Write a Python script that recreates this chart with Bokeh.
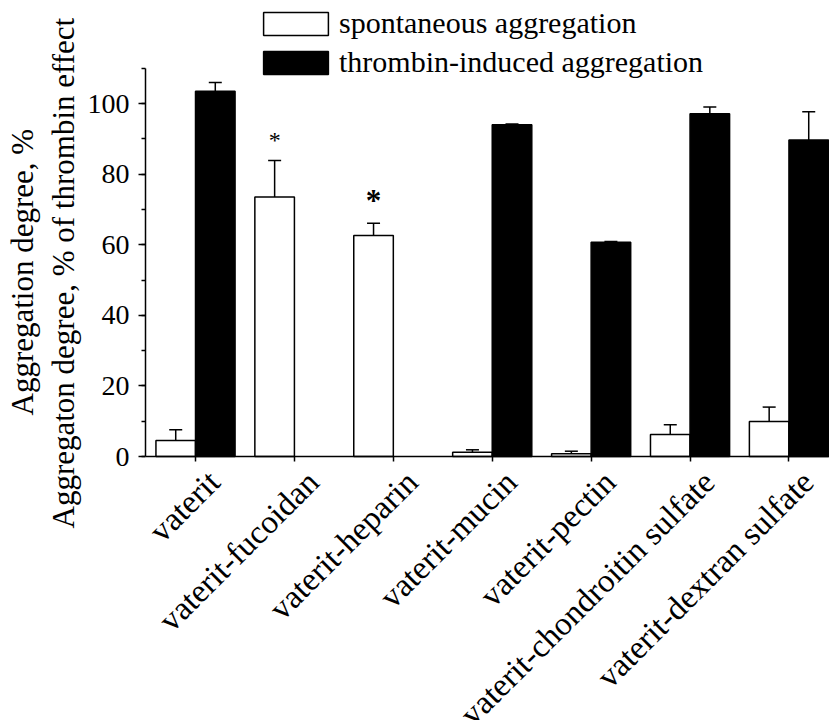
import math
from bokeh.plotting import figure
from bokeh.models import (Range1d, FixedTicker, SingleIntervalTicker, ColumnDataSource,
                          Whisker, TeeHead, Legend, LegendItem, LinearAxis, Title)
from bokeh.core.properties import value
from bokeh.embed import file_html
from bokeh.resources import INLINE

categories = ["vaterit", "vaterit-fucoidan", "vaterit-heparin", "vaterit-mucin",
              "vaterit-pectin", "vaterit-chondroitin sulfate", "vaterit-dextran sulfate"]
spont = [4.5, 73.5, 62.6, 1.2, 0.8, 6.2, 9.9]
spont_err = [3.1, 10.4, 3.5, 0.7, 0.7, 2.8, 4.1]
thromb = [103.5, None, None, 94.0, 60.7, 97.1, 89.7]
thromb_err = [2.5, None, None, 0.2, 0.2, 1.9, 8.0]
sig_small = ["", "*", "", "", "", "", ""]
sig_big = ["", "", "*", "", "", "", ""]
series_names = ["spontaneous aggregation", "thrombin-induced aggregation"]
y_title_1 = "Aggregation degree, %"
y_title_2 = "Aggregaton degree, % of thrombin effect"

FONT = "Liberation Serif"
BW = 0.4
LABEL_SHIFT = 0.19

idx = list(range(len(categories)))
s_src = ColumnDataSource(dict(
    x=[i - BW / 2 for i in idx], top=spont,
    upper=[v + e for v, e in zip(spont, spont_err)],
    lower=spont,
))
t_idx = [i for i in idx if thromb[i] is not None]
t_src = ColumnDataSource(dict(
    x=[i + BW / 2 for i in t_idx], top=[thromb[i] for i in t_idx],
    upper=[thromb[i] + thromb_err[i] for i in t_idx],
    lower=[thromb[i] for i in t_idx],
))

p = figure(width=829, height=720, output_backend="svg", toolbar_location=None,
           x_range=Range1d(-0.5056, 6.41), y_range=Range1d(-74.8, 129.2),
           x_axis_location=None,
           min_border_left=145, min_border_right=0, min_border_top=0,
           min_border_bottom=0)
p.outline_line_color = None
p.xgrid.visible = False
p.ygrid.visible = False
p.background_fill_color = "white"
p.border_fill_color = "white"

r1 = p.vbar(x="x", top="top", width=BW, bottom=0, source=s_src,
            fill_color="white", line_color="black", line_width=1.5)
r2 = p.vbar(x="x", top="top", width=BW, bottom=0, source=t_src,
            fill_color="black", line_color="black", line_width=1.5)

for src in (s_src, t_src):
    w = Whisker(base="x", upper="upper", lower="lower", source=src,
                upper_head=TeeHead(size=13, line_width=1.5, line_color="black"),
                lower_head=None, line_width=1.5, line_color="black")
    p.add_layout(w)

# significance marks
ss = ColumnDataSource(dict(
    x=[i - BW / 2 for i in idx if sig_small[i]],
    y=[spont[i] + spont_err[i] + 5.9 for i in idx if sig_small[i]],
    t=[sig_small[i] for i in idx if sig_small[i]]))
sb = ColumnDataSource(dict(
    x=[i - BW / 2 for i in idx if sig_big[i]],
    y=[spont[i] + spont_err[i] + 6.4 for i in idx if sig_big[i]],
    t=[sig_big[i] for i in idx if sig_big[i]]))
p.text(x="x", y="y", text="t", source=ss, text_font=value(FONT), text_font_size="24px",
       text_align="center", text_baseline="alphabetic", text_color="black")
p.text(x="x", y="y", text="t", source=sb, text_font=value(FONT), text_font_size="31px",
       text_font_style="bold", text_align="center", text_baseline="alphabetic",
       text_color="black")

# x axis: line and ticks at y = 0
xa = LinearAxis(fixed_location=0, ticker=FixedTicker(ticks=idx))
xa.major_label_overrides = {i: "" for i in idx}
xa.major_label_text_font_size = "1px"
xa.axis_line_width = 1.5
xa.axis_line_color = "black"
xa.major_tick_line_width = 1.5
xa.major_tick_line_color = "black"
xa.major_tick_out = 5
xa.major_tick_in = 0
xa.minor_tick_line_color = None
p.add_layout(xa, "below")

# x category labels (rotated)
label_ticks = [i + LABEL_SHIFT for i in idx]
xl = LinearAxis(fixed_location=0, ticker=FixedTicker(ticks=label_ticks))
xl.major_label_overrides = {t: c for t, c in zip(label_ticks, categories)}
xl.major_label_orientation = math.pi / 4
xl.major_label_text_font = FONT
xl.major_label_text_font_size = "33px"
xl.major_label_text_color = "black"
xl.major_label_standoff = 20
xl.axis_line_color = None
xl.major_tick_line_color = None
xl.minor_tick_line_color = None
xl.major_tick_out = 0
xl.major_tick_in = 0
xl.minor_tick_out = 0
xl.minor_tick_in = 0
p.add_layout(xl, "below")

ya = p.yaxis[0]
ya.bounds = (0, 110)
ya.ticker = SingleIntervalTicker(interval=20, num_minor_ticks=2)
ya.major_label_text_font = FONT
ya.major_label_text_font_size = "28px"
ya.major_label_text_color = "black"
ya.major_label_standoff = 9
ya.axis_line_width = 1.5
ya.axis_line_color = "black"
ya.major_tick_line_width = 1.5
ya.major_tick_line_color = "black"
ya.minor_tick_line_width = 1.5
ya.minor_tick_line_color = "black"
ya.major_tick_out = 7
ya.major_tick_in = 0
ya.minor_tick_out = 4
ya.minor_tick_in = 0

# y titles (two lines), placed along the left side
t2 = Title(text=y_title_2, align="left", offset=192, standoff=8,
           vertical_align="bottom", text_font=FONT, text_font_size="31px",
           text_font_style="normal", text_color="black")
t1 = Title(text=y_title_1, align="left", offset=305, standoff=0,
           vertical_align="bottom", text_font=FONT, text_font_size="31px",
           text_font_style="normal", text_color="black")
p.add_layout(t2, "left")
p.add_layout(t1, "left")

legend = Legend(items=[LegendItem(label=series_names[0], renderers=[r1]),
                       LegendItem(label=series_names[1], renderers=[r2])],
                location=(110, 641))
legend.background_fill_alpha = 0
legend.border_line_color = None
legend.padding = 0
legend.margin = 0
legend.glyph_width = 81
legend.glyph_height = 29
legend.spacing = 5
legend.label_standoff = 3
legend.label_text_font = FONT
legend.label_text_font_size = "30px"
legend.label_text_color = "black"
p.add_layout(legend)

open("out.html", "w").write(file_html(p, INLINE))
